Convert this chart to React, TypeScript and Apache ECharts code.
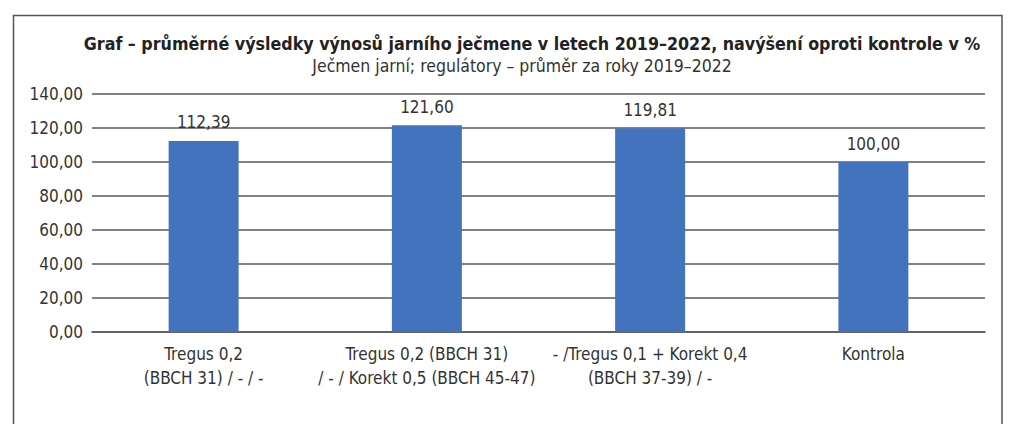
import React, { useEffect, useRef } from "react";
import * as echarts from "echarts";

const categories = [
  "Tregus 0,2\n(BBCH 31) / - / -",
  "Tregus 0,2 (BBCH 31)\n/ - / Korekt 0,5 (BBCH 45-47)",
  "- /Tregus 0,1 + Korekt 0,4\n(BBCH 37-39) / -",
  "Kontrola",
];
const values = [112.39, 121.6, 119.81, 100.0];
const titleText =
  "Graf – průměrné výsledky výnosů jarního ječmene v letech 2019–2022, navýšení oproti kontrole v %";
const subtitleText = "Ječmen jarní; regulátory – průměr za roky 2019–2022";

const FONT = '"Liberation Sans Narrow", "DejaVu Sans Condensed", "Liberation Sans", sans-serif';
const fmt = (v: number) => v.toFixed(2).replace(".", ",");

export default function App() {
  const ref = useRef<HTMLDivElement>(null);
  useEffect(() => {
    if (!ref.current) return;
    const chart = echarts.init(ref.current, undefined, { renderer: "svg" });
    chart.setOption({
      animation: false,
      backgroundColor: "#ffffff",
      textStyle: { fontFamily: FONT },
      graphic: [
        {
          type: "rect",
          shape: { x: 13.5, y: 15.5, width: 988.5, height: 440 },
          style: { fill: "none", stroke: "#555555", lineWidth: 1.5 },
          silent: true,
        },
        {
          type: "text",
          x: 532,
          y: 44,
          style: {
            text: titleText,
            fontFamily: FONT,
            fontSize: 17.7,
            fontWeight: "bold",
            fill: "#222222",
            align: "center",
            verticalAlign: "middle",
          },
        },
        {
          type: "text",
          x: 522,
          y: 66,
          style: {
            text: subtitleText,
            fontFamily: FONT,
            fontSize: 17.5,
            fill: "#333333",
            align: "center",
            verticalAlign: "middle",
          },
        },
      ],
      grid: { left: 92, right: 31, top: 94, bottom: 92, containLabel: false },
      xAxis: {
        type: "category",
        data: categories,
        axisLine: { show: true, lineStyle: { color: "#595959", width: 1.5 } },
        axisTick: { show: false },
        axisLabel: {
          interval: 0,
          color: "#333333",
          fontFamily: FONT,
          fontSize: 17,
          lineHeight: 24,
          margin: 10,
        },
      },
      yAxis: {
        type: "value",
        min: 0,
        max: 140,
        interval: 20,
        axisLine: { show: false },
        axisTick: { show: false },
        axisLabel: {
          color: "#333333",
          fontFamily: FONT,
          fontSize: 17,
          margin: 9,
          formatter: (v: number) => fmt(v),
        },
        splitLine: { lineStyle: { color: "#595959", width: 1.5 } },
      },
      series: [
        {
          type: "bar",
          data: values,
          barWidth: 70,
          itemStyle: { color: "#4473bd" },
          label: {
            show: true,
            position: "top",
            distance: 10,
            color: "#333333",
            fontFamily: FONT,
            fontSize: 17,
            formatter: (p: any) => fmt(p.value),
          },
        },
      ],
    });
    return () => chart.dispose();
  }, []);
  return (
    <div
      ref={ref}
      style={{ position: "absolute", left: 0, top: 0, width: 1016, height: 424 }}
    />
  );
}
